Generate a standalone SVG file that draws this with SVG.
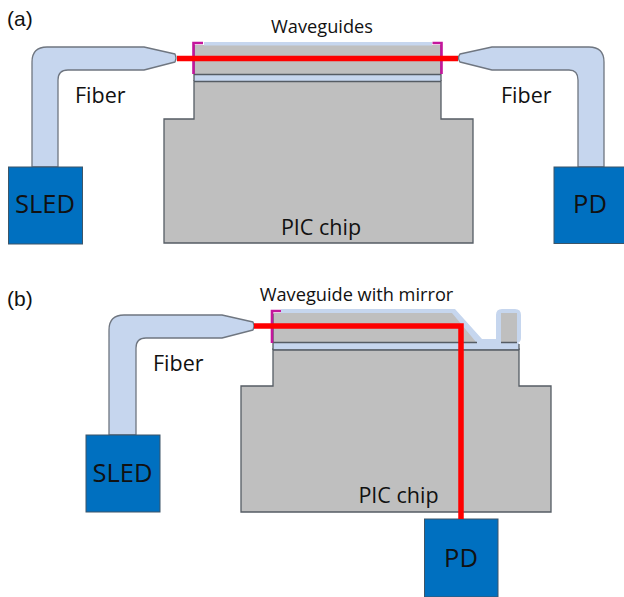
<svg xmlns="http://www.w3.org/2000/svg" width="624" height="597" viewBox="0 0 624 597">
<style>
text{font-family:"Open Sans","Noto Sans","Liberation Sans",sans-serif;fill:#111}
.lab{font-size:21.500px}
.big{font-size:25.500px}
.top{font-size:18.200px}
.hdr{font-family:"Liberation Sans",sans-serif;font-size:21px}
.fiber{fill:#c6d6ee;stroke:#6f7680;stroke-width:1.3;stroke-linejoin:round}
.chip{fill:#bfbfbf;stroke:#555c64;stroke-width:1.3}
.wg{fill:#bfbfbf}
.clad{fill:#c6d6ee}
.box{fill:#0070c0;stroke:#3d5568;stroke-width:1}
.line{stroke:#555c64;stroke-width:1.3;fill:none}
.mag{fill:none;stroke:#c4169c;stroke-width:2.600}
.beam{fill:none;stroke:#fe0000;stroke-width:5.500}
</style>
<rect width="624" height="597" fill="#fff"/>
<text class="hdr" x="7" y="26">(a)</text>
<text class="hdr" x="7" y="306">(b)</text>
<g id="chip-a">
<path class="chip" d="M194 81V119H164V243H473V119H441V81Z"/>
<rect class="clad" x="194" y="75" width="247" height="6.500"/>
<rect class="wg" x="194" y="45" width="247" height="29"/>
<rect class="clad" x="204" y="42" width="228" height="3.500"/>
<path class="line" d="M194 74.500H441M194 81.500H441M194 45V81M441 45V81"/>
<path class="mag" d="M203 43H193.500V74M432.500 43H441.500V74"/>
<text class="lab" x="321" y="235" text-anchor="middle">PIC chip</text>
<text class="top" x="322" y="33" text-anchor="middle">Waveguides</text>
</g>
<g id="fiber-a-left">
<path class="fiber" d="M32 167V62Q32 47 47 47H144L175 54Q177 58 175 62L144 70H68Q58 70 58 80V167Z"/>
<text class="lab" x="75" y="103">Fiber</text>
</g>
<g id="fiber-a-right">
<path class="fiber" d="M604 167V62Q604 47 589 47H492L460 54Q457 58 460 62L492 70H569Q578 70 578 80V167Z"/>
<text class="lab" x="501" y="103">Fiber</text>
</g>
<g id="sled-a">
<rect class="box" x="8.500" y="167" width="74" height="77"/>
<text class="big" x="45" y="213" text-anchor="middle">SLED</text>
</g>
<g id="pd-a">
<rect class="box" x="554" y="167" width="74" height="76.500"/>
<text class="big" x="590" y="213" text-anchor="middle">PD</text>
</g>
<g id="chip-b">
<path class="chip" d="M273 349V386H241V512H551V386H519V349Z"/>
<rect class="clad" x="273" y="343" width="246" height="6.500"/>
<path class="clad" d="M281 309H455L482 339H496V315Q496 309 502 309H515Q521 309 521 315V338Q521 343 516 343H273V314H281Z"/>
<path class="wg" d="M273 313H452L476 342H273Z"/>
<rect class="wg" x="501" y="313" width="16" height="29"/>
<path class="line" d="M273 342.500H477M501 342.500H517M273 350H519M273 314V350M519 344V350"/>
<path class="mag" d="M281 311H272V343"/>
<text class="lab" x="398.500" y="503" text-anchor="middle">PIC chip</text>
<text class="top" x="356.500" y="301" text-anchor="middle">Waveguide with mirror</text>
</g>
<g id="fiber-b">
<path class="fiber" d="M109 435V330Q109 315 124 315H222L253 322Q255 326 253 330L222 338H146Q136 338 136 348V435Z"/>
<text class="lab" x="153" y="371">Fiber</text>
</g>
<g id="sled-b">
<rect class="box" x="86" y="435" width="74" height="77"/>
<text class="big" x="122.500" y="482" text-anchor="middle">SLED</text>
</g>
<g id="pd-b">
<rect class="box" x="424.500" y="519" width="73.500" height="78"/>
<text class="big" x="461" y="567" text-anchor="middle">PD</text>
</g>
<g id="connectors">
<path class="beam" d="M177 58.500H458"/>
<path class="beam" d="M254 326H461V519"/>
</g>
</svg>
